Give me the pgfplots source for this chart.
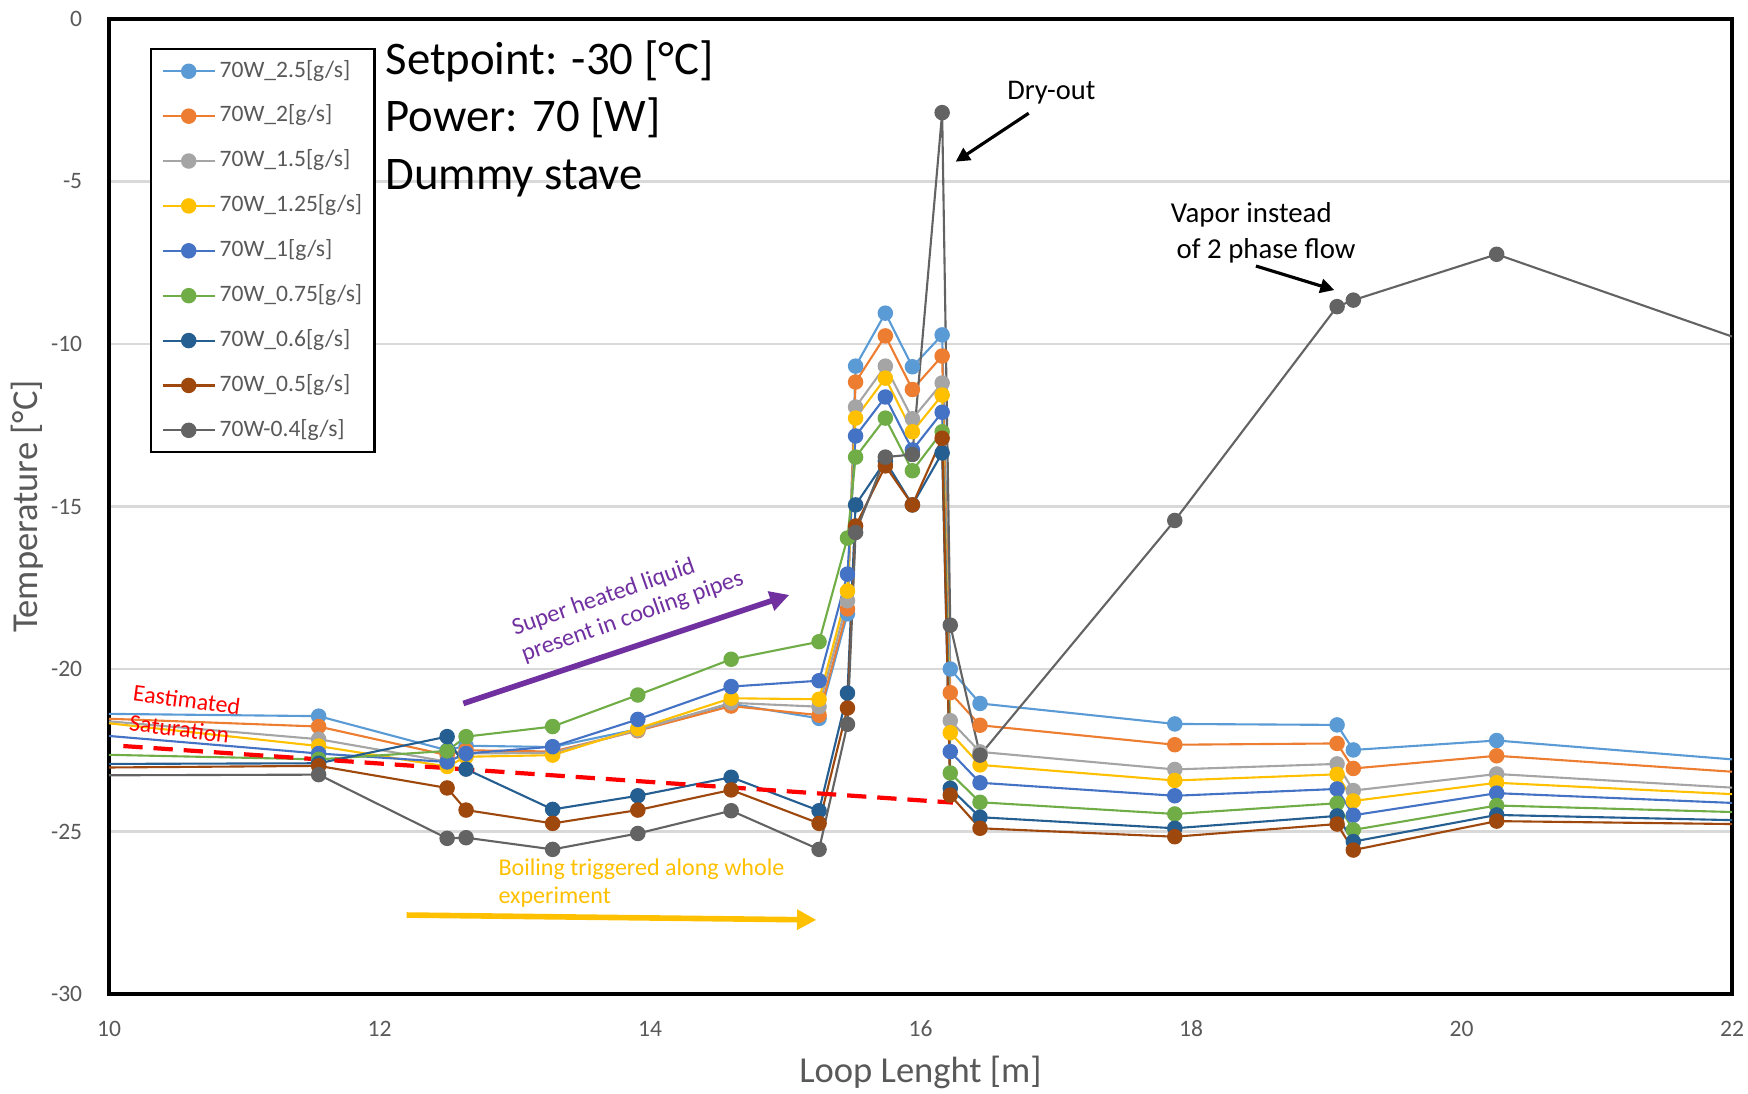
\documentclass[border=0pt]{standalone}
\usepackage{pgfplots}
\pgfplotsset{compat=1.18}
\usepackage{pgfplotstable}
\usepackage{fontspec}
\setmainfont{Carlito}
\usetikzlibrary{arrows.meta}

\definecolor{cA}{RGB}{91,155,213}
\definecolor{cB}{RGB}{237,125,49}
\definecolor{cC}{RGB}{165,165,165}
\definecolor{cD}{RGB}{255,192,0}
\definecolor{cE}{RGB}{68,114,196}
\definecolor{cF}{RGB}{112,173,71}
\definecolor{cG}{RGB}{37,94,145}
\definecolor{cH}{RGB}{158,72,14}
\definecolor{cK}{RGB}{99,99,99}
\definecolor{gridgray}{RGB}{217,217,217}
\definecolor{labgray}{RGB}{89,89,89}
\definecolor{satred}{RGB}{255,0,0}
\definecolor{purp}{RGB}{112,48,160}
\definecolor{goldtxt}{RGB}{255,192,0}

% loop length [m] vs temperature per mass flow; first/last rows sit on the axis edges
\pgfplotstableread{
x      a      b      c      d      e      f      g      h      k
10     -21.38 -21.53 -21.61 -21.67 -22.06 -22.64 -22.92 -23.03 -23.27
11.55  -21.45 -21.77 -22.16 -22.37 -22.60 -22.78 -22.90 -22.98 -23.25
12.50  -22.50 -22.65 -22.85 -23.00 -22.86 -22.52 -22.08 -23.66 -25.21
12.64  -22.36 -22.50 -22.60 -22.70 -22.60 -22.08 -23.08 -24.34 -25.19
13.28  -22.40 -22.54 -22.58 -22.65 -22.39 -21.77 -24.32 -24.75 -25.55
13.91  -21.85 -21.90 -21.88 -21.83 -21.55 -20.80 -23.90 -24.34 -25.06
14.60  -21.07 -21.14 -21.04 -20.90 -20.54 -19.70 -23.33 -23.72 -24.36
15.25  -21.52 -21.42 -21.16 -20.93 -20.36 -19.16 -24.36 -24.75 -25.55
15.46  -18.30 -18.15 -17.90 -17.60 -17.08 -15.97 -20.74 -21.20 -21.70
15.52  -10.68 -11.17 -11.94 -12.28 -12.83 -13.48 -14.95 -15.60 -15.80
15.74  -9.05  -9.75  -10.68 -11.05 -11.63 -12.28 -13.60 -13.75 -13.48
15.94  -10.70 -11.40 -12.30 -12.70 -13.26 -13.90 -14.95 -14.95 -13.40
16.16  -9.72  -10.37 -11.20 -11.57 -12.10 -12.70 -13.35 -12.90 -2.88
16.22  -20.00 -20.73 -21.59 -21.96 -22.54 -23.20 -23.67 -23.88 -18.65
16.44  -21.06 -21.73 -22.55 -22.95 -23.50 -24.10 -24.56 -24.90 -22.65
17.88  -21.69 -22.33 -23.09 -23.43 -23.90 -24.46 -24.90 -25.16 -15.43
19.08  -21.72 -22.29 -22.92 -23.24 -23.69 -24.13 -24.52 -24.77 -8.85
19.20  -22.49 -23.06 -23.74 -24.06 -24.50 -24.95 -25.31 -25.57 -8.65
20.26  -22.20 -22.67 -23.23 -23.50 -23.82 -24.20 -24.49 -24.68 -7.24
22     -22.78 -23.16 -23.65 -23.85 -24.12 -24.40 -24.65 -24.77 -9.77
}\looptable

\pgfplotsset{
  ser/.style={color=#1, line width=0.6pt, mark=*, mark size=1.9pt,
    mark options={solid, fill=#1, draw=#1},
    mark indices={2,3,4,5,6,7,8,9,10,11,12,13,14,15,16,17,18,19}},
}

\begin{document}
\begin{tikzpicture}
\begin{axis}[
  name=ax,
  scale only axis,
  width=16.23cm, height=9.75cm,
  xmin=10, xmax=22, ymin=-30, ymax=0,
  xtick={10,12,...,22}, ytick={-30,-25,...,0},
  ymajorgrids,
  major grid style={color=gridgray, line width=0.6pt},
  major tick length=0pt,
  axis line style={black, line width=1.4pt},
  tick label style={font=\fontsize{6.7}{8}\selectfont, text=labgray},
  /pgf/number format/assume math mode=true,
  xticklabel style={yshift=-4.1pt},
  yticklabel style={xshift=-4.1pt},
  xlabel={Loop Lenght [m]},
  ylabel={Temperature [°C]},
  label style={font=\fontsize{10.4}{12}\selectfont, text=labgray},
  xlabel style={at={(axis description cs:0.5,-0.08)}, anchor=center},
  ylabel style={at={(axis description cs:-0.0505,0.5)}, anchor=center},
  legend cell align=left,
  legend image code/.code={\draw[#1, mark indices={2}] plot coordinates {(0cm,0cm) (0.26cm,0cm) (0.52cm,0cm)};},
  legend style={at={(axis description cs:0.0253,0.970)}, anchor=north west,
    draw=black, line width=0.6pt, fill=white,
    font=\fontsize{6.7}{8}\selectfont, text=labgray,
    inner xsep=3pt, inner ysep=2.4pt, row sep=5.07pt,
    nodes={inner sep=0.5pt, text height=5pt, text depth=1.7pt},
    /tikz/every odd column/.append style={column sep=0.6pt}},
]
\addplot[ser=cA] table[x=x, y=a] {\looptable};
\addlegendentry{70W\_2.5[g/s]}
\addplot[ser=cB] table[x=x, y=b] {\looptable};
\addlegendentry{70W\_2[g/s]}
\addplot[ser=cC] table[x=x, y=c] {\looptable};
\addlegendentry{70W\_1.5[g/s]}
\addplot[ser=cD] table[x=x, y=d] {\looptable};
\addlegendentry{70W\_1.25[g/s]}
\addplot[ser=cE] table[x=x, y=e] {\looptable};
\addlegendentry{70W\_1[g/s]}
\addplot[ser=cF] table[x=x, y=f] {\looptable};
\addlegendentry{70W\_0.75[g/s]}
\addplot[ser=cG] table[x=x, y=g] {\looptable};
\addlegendentry{70W\_0.6[g/s]}
\addplot[ser=cH] table[x=x, y=h] {\looptable};
\addlegendentry{70W\_0.5[g/s]}
\addplot[ser=cK] table[x=x, y=k] {\looptable};
\addlegendentry{70W-0.4[g/s]}

% estimated saturation line
\addplot[forget plot, satred, line width=1.2pt, dash pattern=on 5.5pt off 3.1pt]
  coordinates {(10.106,-22.37) (16.24,-24.11)};

\node[anchor=base west, inner sep=0pt, font=\fontsize{13.3}{16}\selectfont] at (axis cs:12.04,-1.72) {Setpoint: -30 [°C]};
\node[anchor=base west, inner sep=0pt, font=\fontsize{13.3}{16}\selectfont] at (axis cs:12.04,-3.47) {Power: 70 [W]};
\node[anchor=base west, inner sep=0pt, font=\fontsize{13.3}{16}\selectfont] at (axis cs:12.04,-5.26) {Dummy stave};

\node[anchor=base west, inner sep=0pt, font=\fontsize{8.1}{10}\selectfont] at (axis cs:16.637,-2.47) {Dry-out};
\draw[-{Triangle[length=4pt,width=4pt]}, line width=0.9pt] (axis cs:16.80,-2.90) -- (axis cs:16.26,-4.39);

\node[anchor=base west, inner sep=0pt, font=\fontsize{8.2}{10}\selectfont] at (axis cs:17.846,-6.27) {Vapor instead};
\node[anchor=base west, inner sep=0pt, font=\fontsize{8.2}{10}\selectfont] at (axis cs:17.889,-7.36) {of 2 phase flow};
\draw[-{Triangle[length=4pt,width=4pt]}, line width=0.9pt] (axis cs:18.48,-7.60) -- (axis cs:19.06,-8.34);

\node[anchor=base west, inner sep=0pt, rotate=-7.5, text=satred, font=\fontsize{6.8}{8.4}\selectfont]
  at (axis cs:10.168,-20.98) {\begin{tabular}[t]{@{}l@{}}Eastimated\\Saturation\end{tabular}};

\node[anchor=base west, inner sep=0pt, rotate=19.4, text=purp, font=\fontsize{6.9}{7.9}\selectfont]
  at (axis cs:13.00,-18.98) {\begin{tabular}[t]{@{}l@{}}Super heated liquid\\present in cooling pipes\end{tabular}};
\draw[-{Triangle[length=5.5pt,width=5.5pt]}, purp, line width=1.6pt] (axis cs:12.62,-21.06) -- (axis cs:15.03,-17.72);

\node[anchor=base west, inner sep=0pt, text=goldtxt, font=\fontsize{6.85}{9}\selectfont] at (axis cs:12.875,-26.34) {Boiling triggered along whole};
\node[anchor=base west, inner sep=0pt, text=goldtxt, font=\fontsize{6.85}{9}\selectfont] at (axis cs:12.875,-27.20) {experiment};
\draw[-{Triangle[length=5.5pt,width=5.5pt]}, goldtxt, line width=1.6pt] (axis cs:12.20,-27.57) -- (axis cs:15.23,-27.72);
\end{axis}
\pgfresetboundingbox
\path ([shift={(-1.09cm,-0.99cm)}]ax.south west) rectangle ([shift={(0.16cm,0.19cm)}]ax.north east);
\end{tikzpicture}
\end{document}
